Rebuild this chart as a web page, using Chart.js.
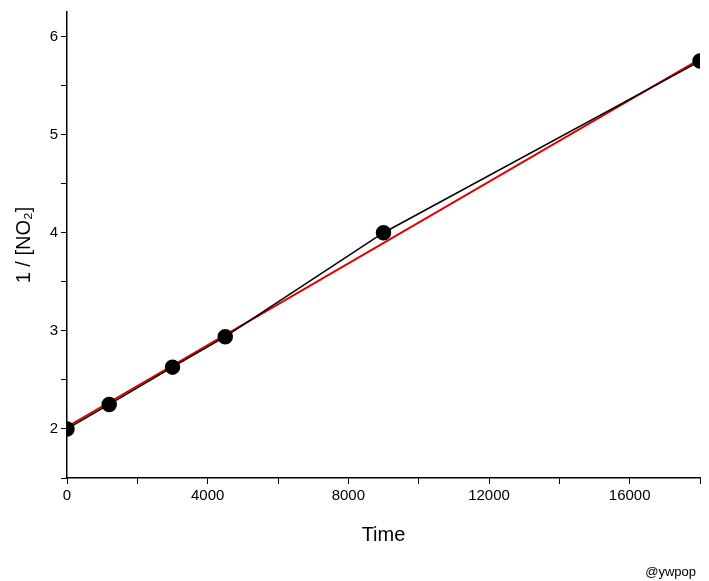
<!DOCTYPE html>
<html lang="en">
<head>
    <meta charset="UTF-8">
    <title>1 / [NO2] vs Time</title>
    <style>
        body { margin: 0; background: #fff; }
        #wrap { width: 709px; height: 581px; position: relative; }
    </style>
</head>
<body>
    <script src="https://cdn.jsdelivr.net/npm/chart.js@4/dist/chart.umd.min.js"></script>
    <div id="wrap"><canvas id="chart"></canvas></div>
    <script>
        // data
        const times = [0, 1200, 3000, 4500, 9000, 18000]
        const invNO2 = [2.0, 2.25, 2.63, 2.94, 4.0, 5.75]
        const fitX = [0, 18000]
        const fitY = [2.02, 5.77]

        const ctx = document.getElementById('chart').getContext('2d')

        // watermark text in the bottom right corner
        const signature = {
            id: 'signature',
            afterDraw(chart) {
                const c = chart.ctx
                c.save()
                c.font = '13px Arial, "Liberation Sans"'
                c.fillStyle = '#000'
                c.textAlign = 'right'
                c.fillText('@ywpop', 696, 576)
                c.restore()
            }
        }

        new Chart(ctx, {
            type: 'scatter',
            data: {
                datasets: [
                    {
                        data: times.map((t, i) => ({ x: t, y: invNO2[i] })),
                        showLine: true,
                        borderColor: '#000',
                        backgroundColor: '#000',
                        borderWidth: 1.5,
                        pointRadius: 7,
                        pointHoverRadius: 7
                    },
                    {
                        data: fitX.map((t, i) => ({ x: t, y: fitY[i] })),
                        showLine: true,
                        borderColor: '#e00000',
                        borderWidth: 2,
                        pointRadius: 0
                    }
                ]
            },
            options: {
                responsive: true,
                maintainAspectRatio: false,
                animation: false,
                layout: { padding: { left: 8, right: 9, top: 8, bottom: 30 } },
                plugins: { legend: { display: false }, tooltip: { enabled: false } },
                scales: {
                    x: {
                        type: 'linear',
                        min: 0,
                        max: 18000,
                        afterFit: s => { s.height = 73 },
                        border: { color: '#000', width: 1.5 },
                        grid: { drawOnChartArea: false, color: '#000', tickLength: 6 },
                        ticks: {
                            stepSize: 2000,
                            maxRotation: 0,
                            color: '#000',
                            font: { size: 15, family: 'Arial, "Liberation Sans"' },
                            callback: v => v % 4000 === 0 ? v : ''
                        },
                        title: {
                            display: true,
                            text: 'Time',
                            color: '#000',
                            font: { size: 20, family: 'Arial, "Liberation Sans"' },
                            padding: { top: 10 }
                        }
                    },
                    y: {
                        min: 1.5,
                        max: 6.25,
                        afterFit: s => { s.width = 59 },
                        afterBuildTicks: s => { s.ticks = s.ticks.filter(t => Math.abs(t.value * 2 - Math.round(t.value * 2)) < 1e-6) },
                        border: { color: '#000', width: 1.5 },
                        grid: { drawOnChartArea: false, color: '#000', tickLength: 6 },
                        ticks: {
                            stepSize: 0.5,
                            color: '#000',
                            font: { size: 15, family: 'Arial, "Liberation Sans"' },
                            callback: v => Number.isInteger(v) && v >= 2 ? v : ''
                        },
                        title: {
                            display: true,
                            text: '1 / [NO₂]',
                            color: '#000',
                            font: { size: 20, family: 'Arial, "Liberation Sans"' },
                            padding: { bottom: 4 }
                        }
                    }
                }
            },
            plugins: [signature]
        })
    </script>
</body>
</html>
